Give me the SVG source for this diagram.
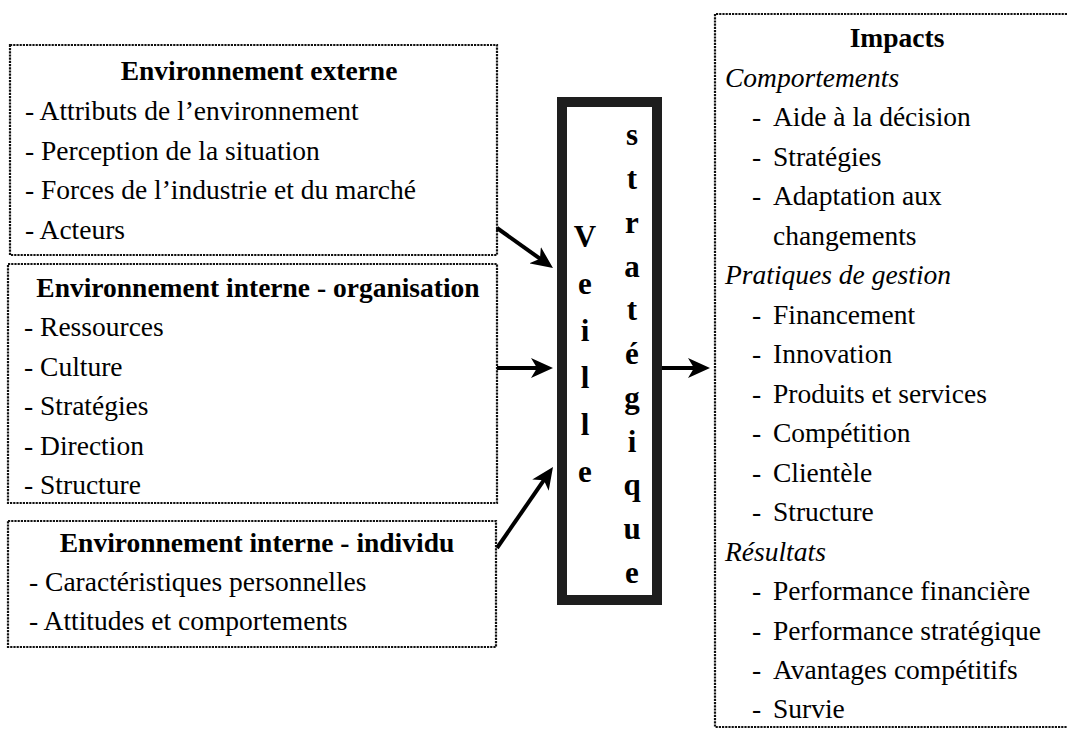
<svg xmlns="http://www.w3.org/2000/svg" width="1067" height="732" viewBox="0 0 1067 732">
<style>
.box{fill:none;stroke:#111;stroke-width:2.2;stroke-dasharray:2.2 1}
.t{font-family:"Liberation Serif","Times New Roman",serif;font-size:27.5px;fill:#000}
.b{font-weight:bold}
.c{text-anchor:middle}
.i{font-style:italic}
.v{font-family:"Liberation Serif","Times New Roman",serif;font-size:31px;font-weight:bold;text-anchor:middle;fill:#000}
.arr{stroke:#000;stroke-width:4;fill:none;marker-end:url(#ah)}
</style>
<defs>
<marker id="ah" markerUnits="userSpaceOnUse" viewBox="0 0 22 20" markerWidth="22" markerHeight="20" refX="9" refY="10" orient="auto">
<path d="M0,0 L22,10 L0,20 L6,10 Z" fill="#000"/>
</marker>
</defs>
<rect width="1067" height="732" fill="#fff"/>

<g id="env-externe">
<rect class="box" x="10" y="45" width="487" height="210"/>
<text class="t b c" x="259" y="80">Environnement externe</text>
<text class="t" x="25" y="120">- Attributs de l’environnement</text>
<text class="t" x="25" y="160">- Perception de la situation</text>
<text class="t" x="25" y="199">- Forces de l’industrie et du marché</text>
<text class="t" x="25" y="239">- Acteurs</text>
</g>

<g id="env-interne-organisation">
<rect class="box" x="8" y="264" width="489" height="239"/>
<text class="t b c" x="258" y="297">Environnement interne - organisation</text>
<text class="t" x="24" y="336">- Ressources</text>
<text class="t" x="24" y="376">- Culture</text>
<text class="t" x="24" y="415">- Stratégies</text>
<text class="t" x="24" y="455">- Direction</text>
<text class="t" x="24" y="494">- Structure</text>
</g>

<g id="env-interne-individu">
<rect class="box" x="8" y="521" width="488" height="126"/>
<text class="t b c" x="257" y="552">Environnement interne - individu</text>
<text class="t" x="29" y="591">- Caractéristiques personnelles</text>
<text class="t" x="29" y="630">- Attitudes et comportements</text>
</g>

<g id="veille-strategique">
<rect x="562" y="102" width="95" height="498" fill="#fff" stroke="#1e1e1e" stroke-width="10"/>
<text class="v" x="585" y="247">V</text>
<text class="v" x="585" y="294">e</text>
<text class="v" x="585" y="341">i</text>
<text class="v" x="585" y="388">l</text>
<text class="v" x="585" y="435">l</text>
<text class="v" x="585" y="482">e</text>
<text class="v" x="632" y="145">s</text>
<text class="v" x="632" y="189">t</text>
<text class="v" x="632" y="233">r</text>
<text class="v" x="632" y="277">a</text>
<text class="v" x="632" y="320">t</text>
<text class="v" x="632" y="364">é</text>
<text class="v" x="632" y="408">g</text>
<text class="v" x="632" y="452">i</text>
<text class="v" x="632" y="495">q</text>
<text class="v" x="632" y="539">u</text>
<text class="v" x="632" y="583">e</text>
</g>

<g id="impacts">
<path class="box" d="M1067,14 H715 V727 H1067"/>
<text class="t b c" x="897" y="47">Impacts</text>
<text class="t i" x="725" y="86.5">Comportements</text>
<text class="t" x="752" y="126">-</text><text class="t" x="773" y="126">Aide à la décision</text>
<text class="t" x="752" y="165.5">-</text><text class="t" x="773" y="165.5">Stratégies</text>
<text class="t" x="752" y="205">-</text><text class="t" x="773" y="205">Adaptation aux</text>
<text class="t" x="773" y="244.5">changements</text>
<text class="t i" x="725" y="284">Pratiques de gestion</text>
<text class="t" x="752" y="323.5">-</text><text class="t" x="773" y="323.5">Financement</text>
<text class="t" x="752" y="363">-</text><text class="t" x="773" y="363">Innovation</text>
<text class="t" x="752" y="402.5">-</text><text class="t" x="773" y="402.5">Produits et services</text>
<text class="t" x="752" y="442">-</text><text class="t" x="773" y="442">Compétition</text>
<text class="t" x="752" y="481.5">-</text><text class="t" x="773" y="481.5">Clientèle</text>
<text class="t" x="752" y="521">-</text><text class="t" x="773" y="521">Structure</text>
<text class="t i" x="725" y="560.5">Résultats</text>
<text class="t" x="752" y="600">-</text><text class="t" x="773" y="600">Performance financière</text>
<text class="t" x="752" y="639.5">-</text><text class="t" x="773" y="639.5">Performance stratégique</text>
<text class="t" x="752" y="679">-</text><text class="t" x="773" y="679">Avantages compétitifs</text>
<text class="t" x="752" y="718">-</text><text class="t" x="773" y="718">Survie</text>
</g>

<g id="connectors">
<line class="arr" x1="497" y1="228" x2="542.4" y2="260.4"/>
<line class="arr" x1="497" y1="368" x2="540" y2="368"/>
<line class="arr" x1="497" y1="548" x2="545.6" y2="477.7"/>
<line class="arr" x1="662" y1="368" x2="697" y2="368"/>
</g>
</svg>
